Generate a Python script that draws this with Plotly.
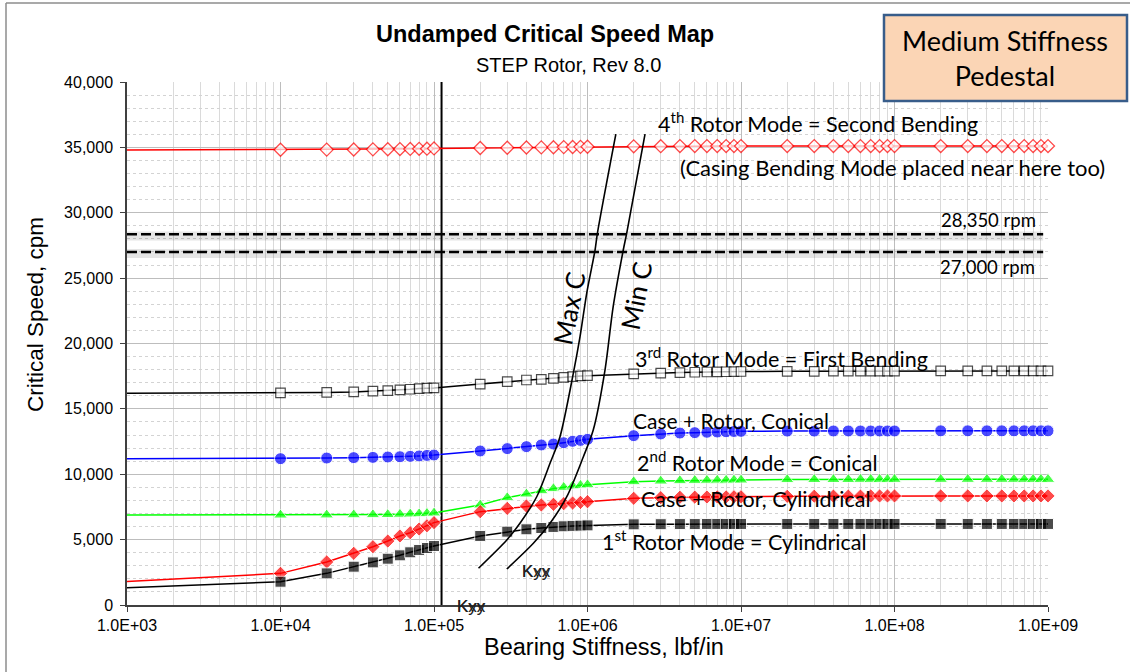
import plotly.graph_objects as go

# ---------------- data ----------------
stiffness = [1e3,
             1e4, 2e4, 3e4, 4e4, 5e4, 6e4, 7e4, 8e4, 9e4,
             1e5, 2e5, 3e5, 4e5, 5e5, 6e5, 7e5, 8e5, 9e5,
             1e6, 2e6, 3e6, 4e6, 5e6, 6e6, 7e6, 8e6, 9e6,
             1e7, 2e7, 3e7, 4e7, 5e7, 6e7, 7e7, 8e7, 9e7,
             1e8, 2e8, 3e8, 4e8, 5e8, 6e8, 7e8, 8e8, 9e8,
             1e9]

mode4_second_bending = [34800,
                        34820, 34830, 34840, 34850, 34860, 34870, 34880, 34890, 34900,
                        34920, 34950, 34970, 34990, 35000, 35010, 35020, 35030, 35040,
                        35050, 35080, 35090, 35100, 35100, 35100, 35100, 35100, 35100,
                        35100, 35100, 35100, 35100, 35100, 35100, 35100, 35100, 35100,
                        35100, 35100, 35100, 35100, 35100, 35100, 35100, 35100, 35100,
                        35100]

mode3_first_bending = [16200,
                       16220, 16260, 16300, 16350, 16400, 16450, 16500, 16550, 16580,
                       16600, 16900, 17080, 17210, 17260, 17340, 17410, 17460, 17520,
                       17540, 17680, 17740, 17780, 17800, 17820, 17830, 17840, 17850,
                       17860, 17870, 17870, 17880, 17880, 17880, 17880, 17890, 17890,
                       17890, 17900, 17900, 17900, 17900, 17900, 17900, 17900, 17900,
                       17900]

case_rotor_conical = [11190,
                      11190, 11240, 11270, 11290, 11320, 11340, 11370, 11400, 11440,
                      11470, 11780, 11960, 12110, 12240, 12310, 12410, 12520, 12590,
                      12670, 12950, 13080, 13150, 13180, 13210, 13230, 13250, 13270,
                      13280, 13300, 13300, 13310, 13310, 13310, 13310, 13310, 13310,
                      13310, 13320, 13320, 13320, 13320, 13320, 13320, 13320, 13320,
                      13320]

mode2_conical = [6880,
                 6880, 6890, 6900, 6910, 6920, 6940, 6960, 6980, 7010,
                 7040, 7650, 8210, 8490, 8740, 8900, 9000, 9100, 9150,
                 9200, 9430, 9480, 9510, 9530, 9540, 9550, 9550, 9560,
                 9560, 9590, 9600, 9600, 9600, 9610, 9610, 9610, 9610,
                 9610, 9610, 9610, 9610, 9610, 9610, 9610, 9610, 9610,
                 9610]

case_rotor_cylindrical = [1790,
                          2420, 3290, 3950, 4460, 4890, 5280, 5530, 5810, 6060,
                          6300, 7140, 7390, 7570, 7650, 7700, 7750, 7800, 7850,
                          7900, 8160, 8210, 8240, 8250, 8260, 8270, 8270, 8280,
                          8280, 8310, 8320, 8330, 8330, 8330, 8340, 8340, 8340,
                          8340, 8340, 8340, 8340, 8340, 8340, 8340, 8340, 8340,
                          8340]

mode1_cylindrical = [1320,
                     1780, 2420, 2930, 3260, 3540, 3800, 4030, 4210, 4360,
                     4510, 5280, 5610, 5790, 5890, 5970, 6020, 6050, 6070,
                     6090, 6170, 6180, 6190, 6190, 6200, 6200, 6200, 6200,
                     6200, 6200, 6200, 6200, 6200, 6200, 6200, 6200, 6200,
                     6200, 6200, 6200, 6200, 6200, 6200, 6200, 6200, 6200,
                     6200]

max_c_stiffness = [1.95e5, 2.98e5, 3.63e5, 4.67e5, 5.70e5, 6.62e5, 8.09e5, 8.94e5, 9.88e5, 1.12e6, 1.16e6, 1.53e6]
max_c_speed = [2810, 4970, 6250, 8280, 10840, 12870, 17740, 20520, 23840, 27150, 28430, 36020]

min_c_stiffness = [2.98e5, 4.44e5, 5.70e5, 7.33e5, 9.40e5, 1.09e6, 1.30e6, 1.47e6, 1.71e6, 1.80e6, 2.37e6]
min_c_speed = [2750, 4720, 6250, 8280, 11340, 13380, 17970, 22820, 27150, 28430, 36020]

kyy_line_stiffness = 1.12e5
speed_limits = [28350, 27000]
speed_limit_labels = ["28,350 rpm", "27,000 rpm"]
limit_line_x = [1e3, 9.3e8]

x_tick_vals = [1e3, 1e4, 1e5, 1e6, 1e7, 1e8, 1e9]
x_tick_text = ["1.0E+03", "1.0E+04", "1.0E+05", "1.0E+06", "1.0E+07", "1.0E+08", "1.0E+09"]
y_tick_vals = [0, 5000, 10000, 15000, 20000, 25000, 30000, 35000, 40000]
y_tick_text = ["0", "5,000", "10,000", "15,000", "20,000", "25,000", "30,000", "35,000", "40,000"]

# ---------------- layout helpers ----------------
W, H = 1130, 672
L, R, T, B = 127, 1048, 82, 605


def px(x):
    return (x - L) / (R - L)


def py(y):
    return (B - y) / (B - T)


ARIAL = "Liberation Sans, Arial, sans-serif"
CAL = "Lato, Open Sans, sans-serif"

fig = go.Figure()

# shadows + dashed speed limit lines
for s in speed_limits:
    fig.add_trace(go.Scatter(x=limit_line_x, y=[s - 120, s - 120], mode="lines",
                             line=dict(color="rgba(0,0,0,0.10)", width=9),
                             hoverinfo="skip", showlegend=False))
for s in speed_limits:
    fig.add_trace(go.Scatter(x=limit_line_x, y=[s, s], mode="lines",
                             line=dict(color="black", width=2.5, dash="10px,4px"),
                             hoverinfo="skip", showlegend=False))

# vertical line
fig.add_trace(go.Scatter(x=[kyy_line_stiffness, kyy_line_stiffness], y=[0, 40000], mode="lines",
                         line=dict(color="black", width=2), hoverinfo="skip", showlegend=False))

sizes = lambda s: [0] + [s] * (len(stiffness) - 1)

series = [
    (mode4_second_bending, "#FF0000", dict(symbol="diamond", size=sizes(10), color="white",
                                           line=dict(color="#FF0000", width=1.3))),
    (mode3_first_bending, "black", dict(symbol="square", size=sizes(9.5), color="white",
                                        line=dict(color="black", width=1.2))),
    (case_rotor_conical, "#0000FF", dict(symbol="circle", size=sizes(12), color="#0000FF")),
    (mode2_conical, "#00FF00", dict(symbol="triangle-up", size=sizes(12), color="#00FF00")),
    (case_rotor_cylindrical, "#FF0000", dict(symbol="diamond", size=sizes(11), color="#FF0000")),
    (mode1_cylindrical, "black", dict(symbol="square", size=sizes(11), color="black")),
]
for ys, col, mk in series:
    fig.add_trace(go.Scatter(x=stiffness, y=ys, mode="lines+markers",
                             line=dict(color=col, width=1.5), marker=mk,
                             cliponaxis=False, showlegend=False))

fig.add_trace(go.Scatter(x=max_c_stiffness, y=max_c_speed, mode="lines",
                         line=dict(color="black", width=1.6, shape="spline", smoothing=0.8),
                         showlegend=False))
fig.add_trace(go.Scatter(x=min_c_stiffness, y=min_c_speed, mode="lines",
                         line=dict(color="black", width=1.6, shape="spline", smoothing=0.8),
                         showlegend=False))

ann = []


def add_text(text, x, y, size, family=CAL, xanchor="left", angle=0, color="black"):
    ann.append(dict(text=text, x=px(x), y=py(y), xref="paper", yref="paper",
                    xanchor=xanchor, yanchor="middle", showarrow=False, textangle=angle,
                    font=dict(family=family, size=size, color=color)))


add_text("<b>Undamped Critical Speed Map</b>", 545, 34, 23.5, family=ARIAL, xanchor="center")
add_text("STEP Rotor, Rev 8.0", 568, 65, 20, family=ARIAL, xanchor="center")
add_text("Critical Speed, cpm", 35, 315, 22.5, family=ARIAL, xanchor="center", angle=-90)
add_text("Bearing Stiffness, lbf/in", 604, 647, 23.5, family=ARIAL, xanchor="center")

add_text("4<sup>th</sup> Rotor Mode = Second Bending", 656, 122, 21.5)
add_text("(Casing Bending Mode placed near here too)", 678, 167, 22)
add_text(speed_limit_labels[0], 1038, 220, 18.5, xanchor="right")
add_text(speed_limit_labels[1], 1037, 267, 18.5, xanchor="right")
add_text("3<sup>rd</sup> Rotor Mode = First Bending", 633, 357, 21.5)
add_text("Case + Rotor, Conical", 631, 420, 21)
add_text("2<sup>nd</sup> Rotor Mode = Conical", 635, 461, 21.5)
add_text("Case + Rotor, Cylindrical", 639, 499, 21.5)
add_text("1<sup>st</sup> Rotor Mode = Cylindrical", 600, 540, 21.5)
add_text("Max C", 569, 308, 26, xanchor="center", angle=-79)
add_text("Min C", 636, 296, 26, xanchor="center", angle=-79)
add_text("Kxx", 471, 606, 17, family=ARIAL, xanchor="center", color="#222")
add_text("Kyy", 471, 606, 17, family=ARIAL, xanchor="center", color="#222")
add_text("Kxx", 536, 571, 17, family=ARIAL, xanchor="center", color="#222")
add_text("Kyy", 536, 571, 17, family=ARIAL, xanchor="center", color="#222")

# box label
ann.append(dict(text="Medium Stiffness<br>Pedestal", x=px(1005), y=py(58), xref="paper", yref="paper",
                xanchor="center", yanchor="middle", showarrow=False,
                font=dict(family=CAL, size=27, color="black")))

shapes = [
    dict(type="rect", xref="paper", yref="paper", x0=px(884), x1=px(1127), y0=py(15), y1=py(101),
         fillcolor="#FBD5B5", line=dict(color="#385D8A", width=2.5), layer="above"),
    dict(type="line", xref="paper", yref="paper", x0=px(6), x1=px(6), y0=py(3), y1=py(672),
         line=dict(color="#8C8C8C", width=1.5)),
    dict(type="line", xref="paper", yref="paper", x0=px(6), x1=px(1130), y0=py(3), y1=py(3),
         line=dict(color="#8C8C8C", width=1.5)),
]

fig.update_layout(
    width=W, height=H,
    margin=dict(l=L, r=W - R, t=T, b=H - B, pad=0),
    paper_bgcolor="white", plot_bgcolor="white",
    showlegend=False,
    annotations=ann, shapes=shapes,
    xaxis=dict(type="log", range=[3, 9], tickvals=x_tick_vals, ticktext=x_tick_text,
               showgrid=True, gridcolor="#BDBDBD", gridwidth=1,
               minor=dict(dtick="D1", showgrid=True, gridcolor="#DADADA", gridwidth=1, ticks=""),
               showline=True, linecolor="#404040", linewidth=1.5,
               ticks="outside", ticklen=5, tickcolor="#404040",
               tickfont=dict(family=ARIAL, size=16, color="black"), zeroline=False),
    yaxis=dict(range=[0, 40000], tickvals=y_tick_vals, ticktext=y_tick_text,
               showgrid=True, gridcolor="#BDBDBD", gridwidth=1,
               minor=dict(dtick=1000, showgrid=True, gridcolor="#D3D3D3", griddash="dot", gridwidth=1, ticks=""),
               showline=True, linecolor="#404040", linewidth=1.5,
               ticks="outside", ticklen=5, tickcolor="#404040", ticklabelstandoff=4,
               tickfont=dict(family=ARIAL, size=16, color="black"), zeroline=False),
)

fig.write_html("out.html")
